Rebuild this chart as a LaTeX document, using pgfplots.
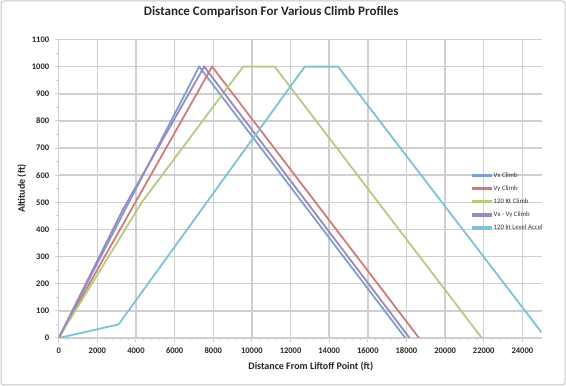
\documentclass[border=0pt]{standalone}
\usepackage{fontspec}
\setmainfont{Carlito}
\usepackage{pgfplots}
\pgfplotsset{compat=1.18}
\definecolor{xlblue}{HTML}{7E9FD3}
\definecolor{xlred}{HTML}{CF7C78}
\definecolor{xlgreen}{HTML}{B4CC82}
\definecolor{xlpurple}{HTML}{9C88BD}
\definecolor{xlaqua}{HTML}{7DC2D6}
\definecolor{gridc}{HTML}{CFCFCF}
\begin{document}
\begin{tikzpicture}
\useasboundingbox (0,0) rectangle (566pt,386pt);
\draw[gray!45, line width=1pt, rounded corners=3pt] (1pt,1pt) rectangle (565pt,385pt);
\begin{axis}[
  at={(58.7pt,48pt)}, anchor=south west,
  scale only axis, width=483pt, height=298.5pt,
  xmin=0, xmax=25000, ymin=0, ymax=1100,
  xtick={0,2000,...,24000}, ytick={0,100,...,1100},
  minor x tick num=4, minor y tick num=1,
  axis x line=bottom, axis y line=left,
  axis line style={gridc, line width=1.5pt, -},
  grid=major, major grid style={gridc, line width=1.5pt},
  tick style={gridc, line width=1pt},
  major tick length=4pt, minor tick length=2.5pt,
  tick align=outside,
  scaled ticks=false,
  /pgf/number format/.cd, 1000 sep={}, assume math mode=true, /pgfplots/.cd,
  tick label style={font=\fontsize{8.5}{10}\selectfont\bfseries, text=black!85},
  xticklabel style={yshift=-2pt},
  yticklabel style={xshift=-2pt},
  xlabel={Distance From Liftoff Point (ft)},
  ylabel={Altitude (ft)},
  label style={font=\fontsize{10}{12}\selectfont\bfseries, text=black!85},
  xlabel style={at={(axis description cs:0.522,-0.097)}, anchor=center},
  ylabel style={at={(axis description cs:-0.076,0.5)}, anchor=center},
  title={Distance Comparison For Various Climb Profiles},
  title style={font=\fontsize{13}{15}\selectfont\bfseries, text=black!85, at={(axis description cs:0.44,1.072)}, anchor=center},
  legend style={draw=none, fill=none, at={(0.855,0.562)}, anchor=north west,
    font=\fontsize{6.8}{8}\selectfont, text=black!80, row sep=2.8pt,
    legend cell align=left, inner sep=0pt},
  legend image code/.code={\fill[#1] (0pt,-1pt) rectangle (18pt,1pt);},
  every axis plot/.append style={line width=1.8pt},
  clip=true,
]
\addplot[xlblue] coordinates {(0,0) (7270,1000) (17940,0)};
\addlegendentry{Vx Climb}
\addplot[xlred] coordinates {(0,0) (7940,1000) (18650,0)};
\addlegendentry{Vy Climb}
\addplot[xlgreen] coordinates {(0,0) (4300,500) (9545,1000) (11180,1000) (21900,0)};
\addlegendentry{120 Kt Climb}
\addplot[xlpurple] coordinates {(0,0) (3300,470) (7530,1000) (18160,0)};
\addlegendentry{Vx - Vy Climb}
\addplot[xlaqua] coordinates {(0,0) (3100,50) (12735,1000) (14460,1000) (25000,20)};
\addlegendentry{120 kt Level Accel}
\end{axis}
\end{tikzpicture}
\end{document}
